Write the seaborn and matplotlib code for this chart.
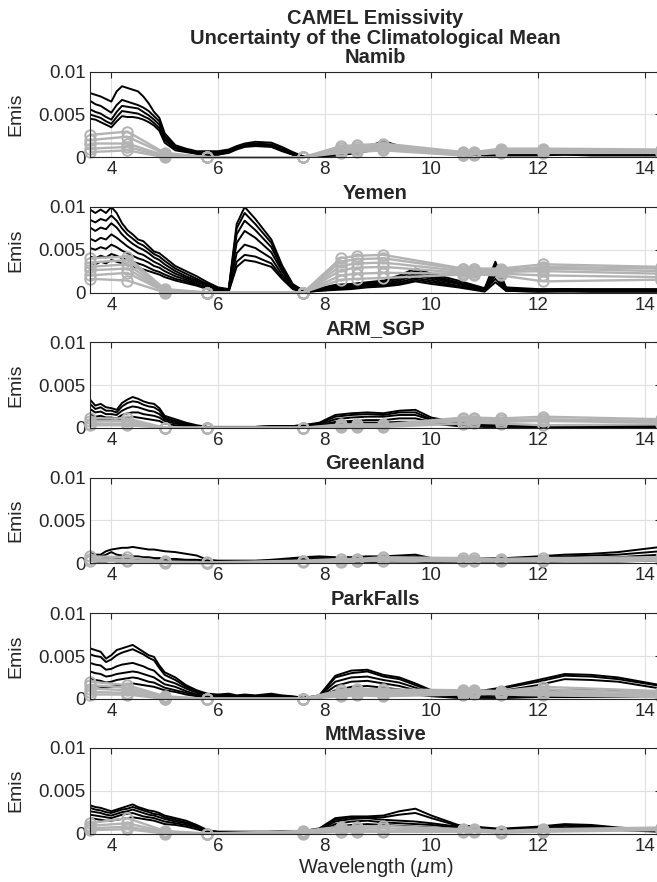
import numpy as np
import pandas as pd

import matplotlib
matplotlib.use("Agg")
import matplotlib.pyplot as plt
import seaborn as sns

# black spectra sampled at these wavelengths (um), values in units of 1e-3
wavelength = [3.6, 3.7, 3.8, 3.9, 4.0, 4.1, 4.2, 4.3, 4.4,
              4.5, 4.6, 4.7, 4.8, 4.9, 5.0, 5.2, 5.4, 5.6,
              5.8, 6.0, 6.2, 6.35, 6.5, 6.7, 7.0, 7.2, 7.4,
              7.6, 7.9, 8.2, 8.5, 8.8, 9.1, 9.4, 9.7, 10.0,
              10.5, 11.0, 11.2, 11.4, 12.0, 12.5, 13.0, 13.5, 14.3]

# CAMEL hinge points (gray lines with circles)
hinge_wavelength = [3.6, 4.3, 5.0, 5.8, 7.6, 8.3, 8.6, 9.1, 10.6, 10.8, 11.3, 12.1, 14.3]

sites = ["Namib", "Yemen", "ARM_SGP", "Greenland", "ParkFalls", "MtMassive"]

namib_black = [
    [7.5, 7.3, 7.1, 6.8, 6.5, 7.7, 8.3, 8.1, 7.9,
     7.7, 7.1, 6.3, 5.3, 4.6, 2.8, 1.4, 1.0, 0.7,
     0.7, 0.7, 0.9, 1.3, 1.6, 1.8, 1.7, 1.2, 0.6,
     0.1, 0.3, 0.5, 0.8, 1.2, 1.9, 1.3, 1.1, 0.9,
     0.6, 0.5, 0.5, 0.5, 0.5, 0.6, 0.5, 0.6, 0.6],
    [6.6, 6.2, 6.0, 5.6, 5.2, 6.1, 6.7, 6.5, 6.3,
     6.1, 5.8, 5.4, 4.8, 4.2, 2.5, 1.2, 0.9, 0.6,
     0.5, 0.5, 0.8, 1.2, 1.5, 1.6, 1.5, 1.0, 0.5,
     0.1, 0.2, 0.4, 0.7, 1.0, 1.7, 1.2, 1.0, 0.8,
     0.5, 0.4, 0.4, 0.4, 0.4, 0.5, 0.4, 0.5, 0.5],
    [5.6, 5.3, 5.1, 4.7, 4.4, 5.3, 6.0, 5.9, 5.8,
     5.7, 5.3, 4.9, 4.4, 3.8, 2.2, 1.1, 0.8, 0.5,
     0.4, 0.4, 0.7, 1.1, 1.4, 1.5, 1.4, 0.9, 0.4,
     0.0, 0.2, 0.3, 0.6, 0.9, 1.6, 1.1, 0.9, 0.7,
     0.4, 0.3, 0.3, 0.4, 0.4, 0.4, 0.4, 0.4, 0.4],
    [5.0, 4.8, 4.6, 4.2, 3.9, 4.7, 5.4, 5.3, 5.2,
     5.1, 4.8, 4.5, 4.0, 3.4, 2.0, 1.0, 0.7, 0.4,
     0.3, 0.3, 0.6, 1.0, 1.3, 1.4, 1.3, 0.8, 0.3,
     0.0, 0.1, 0.2, 0.5, 0.8, 1.5, 1.0, 0.8, 0.6,
     0.3, 0.3, 0.3, 0.3, 0.3, 0.3, 0.3, 0.3, 0.3],
    [4.5, 4.4, 4.1, 3.8, 3.5, 4.2, 4.8, 4.7, 4.7,
     4.6, 4.4, 4.1, 3.7, 3.1, 1.7, 0.8, 0.6, 0.4,
     0.3, 0.3, 0.5, 0.9, 1.2, 1.3, 1.2, 0.7, 0.3,
     0.0, 0.1, 0.2, 0.4, 0.7, 1.3, 0.9, 0.7, 0.5,
     0.3, 0.2, 0.2, 0.2, 0.2, 0.3, 0.2, 0.2, 0.2],
]
namib_gray = [
    [2.6, 3.0, 0.5, 0.0, 0.0, 1.3, 1.4, 1.6, 0.6, 0.6, 1.0, 1.0, 0.9],
    [2.0, 2.4, 0.4, 0.0, 0.0, 1.1, 1.2, 1.4, 0.5, 0.5, 0.8, 0.8, 0.8],
    [1.6, 1.6, 0.2, 0.0, 0.0, 0.9, 1.0, 1.2, 0.4, 0.4, 0.7, 0.7, 0.7],
    [1.0, 1.2, 0.1, 0.0, 0.0, 0.7, 0.8, 1.0, 0.3, 0.4, 0.6, 0.6, 0.6],
    [0.6, 0.8, 0.0, 0.0, 0.0, 0.5, 0.6, 0.8, 0.2, 0.3, 0.5, 0.5, 0.5],
]

yemen_black = [
    [9.7, 9.3, 9.7, 9.3, 10.0, 9.3, 8.1, 7.3, 6.8,
     6.2, 6.0, 5.4, 4.8, 4.6, 4.1, 3.1, 2.5, 1.9,
     1.2, 0.6, 0.4, 8.0, 10.0, 8.6, 6.2, 3.2, 1.0,
     0.2, 0.5, 0.9, 1.0, 1.2, 1.4, 2.0, 2.8, 2.2,
     1.4, 0.5, 3.6, 0.6, 0.4, 0.4, 0.4, 0.4, 0.4],
    [8.5, 8.2, 8.6, 8.4, 9.0, 8.4, 7.5, 6.8, 6.3,
     5.8, 5.5, 5.0, 4.5, 4.2, 3.7, 2.8, 2.2, 1.6,
     1.0, 0.5, 0.3, 7.5, 9.3, 8.0, 5.8, 3.0, 0.9,
     0.2, 0.4, 0.8, 0.9, 1.1, 1.3, 1.8, 2.5, 2.0,
     1.2, 0.4, 3.2, 0.5, 0.3, 0.4, 0.3, 0.3, 0.3],
    [7.6, 7.2, 7.6, 7.4, 8.1, 7.6, 6.8, 6.2, 5.7,
     5.3, 5.0, 4.6, 4.1, 3.8, 3.3, 2.5, 1.9, 1.4,
     0.9, 0.4, 0.3, 6.8, 8.4, 7.3, 5.3, 2.8, 0.8,
     0.1, 0.4, 0.7, 0.8, 1.0, 1.2, 1.6, 2.2, 1.8,
     1.1, 0.3, 2.8, 0.4, 0.3, 0.3, 0.3, 0.3, 0.3],
    [6.3, 6.0, 6.4, 6.2, 6.8, 6.4, 5.9, 5.4, 5.0,
     4.6, 4.4, 4.0, 3.6, 3.3, 2.9, 2.2, 1.7, 1.2,
     0.8, 0.3, 0.2, 5.8, 7.2, 6.4, 4.7, 2.5, 0.7,
     0.1, 0.3, 0.6, 0.7, 0.9, 1.0, 1.4, 2.0, 1.6,
     1.0, 0.3, 2.4, 0.3, 0.2, 0.3, 0.2, 0.2, 0.2],
    [5.2, 5.0, 5.3, 5.1, 5.6, 5.3, 4.9, 4.6, 4.3,
     4.0, 3.8, 3.5, 3.1, 2.9, 2.5, 1.9, 1.5, 1.0,
     0.6, 0.2, 0.2, 4.6, 5.6, 5.2, 4.0, 2.1, 0.6,
     0.1, 0.3, 0.5, 0.6, 0.8, 0.9, 1.2, 1.7, 1.4,
     0.8, 0.2, 2.0, 0.3, 0.2, 0.2, 0.2, 0.2, 0.2],
    [4.2, 4.0, 4.3, 4.1, 4.5, 4.3, 4.0, 3.8, 3.6,
     3.4, 3.2, 2.9, 2.6, 2.4, 2.1, 1.6, 1.3, 0.9,
     0.5, 0.2, 0.1, 3.6, 4.4, 4.2, 3.4, 1.8, 0.5,
     0.1, 0.2, 0.4, 0.5, 0.7, 0.8, 1.0, 1.5, 1.2,
     0.7, 0.2, 1.6, 0.2, 0.1, 0.2, 0.1, 0.1, 0.1],
    [3.5, 3.3, 3.6, 3.4, 3.8, 3.6, 3.4, 3.2, 3.0,
     2.9, 2.7, 2.5, 2.3, 2.1, 1.8, 1.4, 1.1, 0.8,
     0.4, 0.1, 0.1, 3.0, 3.8, 3.6, 3.0, 1.6, 0.4,
     0.0, 0.2, 0.3, 0.4, 0.6, 0.7, 0.9, 1.3, 1.0,
     0.6, 0.1, 1.2, 0.2, 0.1, 0.1, 0.1, 0.1, 0.1],
]
yemen_gray = [
    [4.0, 4.2, 0.4, 0.0, 0.0, 4.0, 4.3, 4.4, 2.8, 2.8, 2.8, 3.3, 3.0],
    [3.5, 3.8, 0.3, 0.0, 0.0, 3.6, 3.9, 4.0, 2.7, 2.7, 2.6, 3.0, 2.8],
    [3.0, 3.3, 0.2, 0.0, 0.0, 3.1, 3.4, 3.5, 2.5, 2.5, 2.5, 2.8, 2.5],
    [2.6, 2.8, 0.1, 0.0, 0.0, 2.6, 2.9, 3.0, 2.3, 2.4, 2.4, 2.5, 2.2],
    [2.0, 2.3, 0.1, 0.0, 0.0, 2.0, 2.2, 2.3, 2.2, 2.2, 2.2, 2.0, 1.8],
    [1.6, 1.4, 0.0, 0.0, 0.0, 1.5, 1.6, 1.7, 2.1, 2.1, 2.0, 1.3, 1.5],
]

arm_black = [
    [3.3, 2.6, 2.8, 2.4, 2.3, 2.1, 2.9, 3.3, 3.6,
     3.4, 3.1, 2.9, 2.8, 2.3, 1.4, 1.0, 0.6, 0.3,
     0.1, 0.1, 0.1, 0.1, 0.1, 0.1, 0.2, 0.2, 0.2,
     0.3, 0.6, 1.5, 1.7, 1.8, 1.7, 2.0, 2.1, 1.2,
     0.6, 0.4, 0.4, 0.3, 0.2, 0.2, 0.2, 0.3, 0.3],
    [2.8, 2.2, 2.4, 2.0, 2.0, 1.8, 2.5, 2.9, 3.1,
     3.0, 2.7, 2.5, 2.4, 2.0, 1.2, 0.8, 0.5, 0.2,
     0.1, 0.1, 0.1, 0.1, 0.1, 0.1, 0.2, 0.2, 0.2,
     0.3, 0.5, 1.3, 1.5, 1.6, 1.5, 1.8, 1.8, 1.0,
     0.5, 0.3, 0.3, 0.3, 0.2, 0.2, 0.2, 0.2, 0.2],
    [2.2, 1.8, 1.9, 1.6, 1.6, 1.5, 2.0, 2.3, 2.5,
     2.4, 2.2, 2.0, 1.9, 1.6, 1.0, 0.7, 0.4, 0.2,
     0.1, 0.1, 0.1, 0.1, 0.1, 0.1, 0.1, 0.2, 0.2,
     0.2, 0.4, 1.0, 1.2, 1.3, 1.3, 1.5, 1.5, 0.9,
     0.4, 0.3, 0.2, 0.2, 0.2, 0.2, 0.2, 0.2, 0.2],
    [1.6, 1.3, 1.4, 1.2, 1.2, 1.1, 1.5, 1.7, 1.8,
     1.8, 1.6, 1.5, 1.4, 1.2, 0.8, 0.5, 0.3, 0.1,
     0.1, 0.1, 0.1, 0.1, 0.1, 0.1, 0.1, 0.1, 0.1,
     0.2, 0.3, 0.7, 0.8, 0.9, 0.9, 1.1, 1.1, 0.7,
     0.3, 0.2, 0.2, 0.2, 0.1, 0.1, 0.1, 0.1, 0.1],
    [1.2, 1.0, 1.0, 0.9, 0.9, 0.8, 1.1, 1.2, 1.3,
     1.2, 1.1, 1.0, 0.9, 0.8, 0.5, 0.3, 0.2, 0.1,
     0.0, 0.0, 0.0, 0.0, 0.0, 0.0, 0.1, 0.1, 0.1,
     0.1, 0.2, 0.5, 0.6, 0.6, 0.6, 0.7, 0.7, 0.5,
     0.2, 0.1, 0.1, 0.1, 0.1, 0.1, 0.1, 0.1, 0.1],
]
arm_gray = [
    [1.1, 1.1, 0.0, 0.0, 0.0, 0.4, 0.4, 0.4, 1.2, 1.2, 1.1, 1.3, 1.0],
    [0.8, 0.8, 0.0, 0.0, 0.0, 0.3, 0.3, 0.3, 1.0, 1.0, 0.9, 1.0, 0.8],
    [0.5, 0.5, 0.0, 0.0, 0.0, 0.2, 0.2, 0.2, 0.8, 0.8, 0.7, 0.8, 0.6],
    [0.3, 0.3, 0.0, 0.0, 0.0, 0.1, 0.1, 0.1, 0.5, 0.6, 0.5, 0.3, 0.4],
]

greenland_black = [
    [1.2, 1.0, 1.0, 1.4, 1.6, 1.7, 1.8, 1.8, 1.9,
     1.8, 1.7, 1.6, 1.6, 1.5, 1.4, 1.3, 1.1, 0.9,
     0.4, 0.3, 0.3, 0.3, 0.3, 0.3, 0.4, 0.5, 0.6,
     0.7, 0.8, 0.7, 0.7, 0.8, 0.8, 0.9, 1.0, 0.6,
     0.6, 0.6, 0.6, 0.6, 0.8, 1.0, 1.1, 1.3, 1.9],
    [1.0, 0.9, 0.8, 1.0, 1.3, 1.0, 0.9, 0.9, 0.8,
     0.8, 0.7, 0.7, 0.6, 0.6, 0.5, 0.5, 0.4, 0.4,
     0.3, 0.2, 0.2, 0.2, 0.2, 0.2, 0.3, 0.4, 0.5,
     0.6, 0.6, 0.6, 0.6, 0.6, 0.7, 0.7, 0.8, 0.5,
     0.5, 0.5, 0.5, 0.5, 0.7, 0.8, 0.9, 1.0, 1.4],
    [0.6, 0.5, 0.5, 0.6, 0.7, 0.6, 0.5, 0.5, 0.5,
     0.4, 0.4, 0.4, 0.4, 0.3, 0.3, 0.3, 0.3, 0.2,
     0.2, 0.2, 0.1, 0.1, 0.1, 0.1, 0.2, 0.2, 0.3,
     0.4, 0.4, 0.4, 0.4, 0.4, 0.5, 0.5, 0.6, 0.4,
     0.4, 0.4, 0.4, 0.4, 0.5, 0.6, 0.6, 0.7, 1.0],
    [0.3, 0.2, 0.2, 0.2, 0.3, 0.2, 0.2, 0.2, 0.2,
     0.2, 0.2, 0.2, 0.2, 0.1, 0.1, 0.1, 0.1, 0.1,
     0.1, 0.1, 0.1, 0.1, 0.1, 0.1, 0.1, 0.1, 0.1,
     0.1, 0.1, 0.1, 0.1, 0.1, 0.2, 0.2, 0.2, 0.1,
     0.1, 0.1, 0.1, 0.1, 0.1, 0.2, 0.2, 0.2, 0.3],
]
greenland_gray = [
    [0.8, 0.7, 0.2, 0.1, 0.3, 0.5, 0.5, 0.7, 0.6, 0.6, 0.5, 0.6, 0.7],
    [0.5, 0.4, 0.1, 0.0, 0.2, 0.3, 0.3, 0.5, 0.4, 0.4, 0.4, 0.4, 0.5],
    [0.3, 0.2, 0.0, 0.0, 0.1, 0.1, 0.2, 0.3, 0.2, 0.2, 0.2, 0.2, 0.3],
]

parkfalls_black = [
    [5.9, 5.7, 5.5, 4.7, 5.1, 5.7, 5.9, 6.1, 6.3,
     5.9, 5.5, 5.1, 4.9, 3.9, 3.1, 2.5, 1.6, 1.0,
     0.6, 0.5, 0.6, 0.4, 0.5, 0.4, 0.6, 0.4, 0.3,
     0.1, 0.4, 2.7, 3.3, 3.4, 2.8, 2.5, 1.8, 1.0,
     0.8, 1.0, 1.2, 1.4, 2.2, 2.9, 2.8, 2.5, 1.6],
    [5.2, 5.0, 4.9, 4.3, 4.6, 5.1, 5.4, 5.6, 5.8,
     5.5, 5.2, 4.8, 4.5, 3.6, 2.8, 2.2, 1.4, 0.9,
     0.5, 0.4, 0.5, 0.3, 0.4, 0.3, 0.5, 0.3, 0.2,
     0.1, 0.3, 2.5, 3.0, 3.2, 2.6, 2.3, 1.6, 0.9,
     0.7, 0.9, 1.1, 1.3, 2.0, 2.7, 2.6, 2.3, 1.5],
    [4.2, 4.0, 3.9, 3.4, 3.5, 3.8, 4.0, 4.1, 4.2,
     4.0, 3.8, 3.5, 3.3, 2.7, 2.2, 1.8, 1.2, 0.7,
     0.4, 0.3, 0.4, 0.3, 0.3, 0.3, 0.4, 0.3, 0.2,
     0.1, 0.3, 2.0, 2.5, 2.6, 2.2, 1.9, 1.3, 0.7,
     0.5, 0.6, 0.8, 1.0, 1.6, 2.3, 2.2, 2.0, 1.2],
    [3.2, 3.0, 2.9, 2.6, 2.7, 2.9, 3.0, 3.1, 3.2,
     3.1, 2.9, 2.7, 2.5, 2.1, 1.7, 1.4, 0.9, 0.5,
     0.3, 0.2, 0.3, 0.2, 0.2, 0.2, 0.3, 0.2, 0.1,
     0.1, 0.2, 1.5, 2.0, 2.1, 1.8, 1.5, 1.0, 0.5,
     0.3, 0.3, 0.4, 0.5, 0.8, 1.0, 1.0, 0.9, 0.6],
    [2.4, 2.2, 2.1, 1.9, 2.0, 2.2, 2.3, 2.4, 2.5,
     2.4, 2.2, 2.0, 1.9, 1.6, 1.3, 1.0, 0.7, 0.4,
     0.2, 0.2, 0.2, 0.2, 0.2, 0.2, 0.2, 0.1, 0.1,
     0.0, 0.2, 1.0, 1.4, 1.5, 1.3, 1.1, 0.7, 0.4,
     0.2, 0.2, 0.2, 0.3, 0.4, 0.5, 0.5, 0.5, 0.3],
    [1.6, 1.5, 1.4, 1.3, 1.4, 1.5, 1.6, 1.7, 1.8,
     1.7, 1.6, 1.5, 1.4, 1.2, 1.0, 0.8, 0.5, 0.3,
     0.2, 0.1, 0.2, 0.1, 0.1, 0.1, 0.1, 0.1, 0.1,
     0.0, 0.1, 0.6, 0.9, 1.0, 0.9, 0.8, 0.5, 0.3,
     0.1, 0.1, 0.1, 0.1, 0.2, 0.2, 0.2, 0.2, 0.2],
]
parkfalls_gray = [
    [2.0, 1.6, 0.3, 0.0, 0.0, 1.0, 1.2, 1.1, 1.0, 1.0, 0.9, 1.4, 0.9],
    [1.6, 1.3, 0.2, 0.0, 0.0, 0.8, 1.0, 0.9, 0.9, 0.9, 0.8, 1.1, 0.7],
    [1.2, 1.0, 0.1, 0.0, 0.0, 0.6, 0.8, 0.7, 0.8, 0.8, 0.7, 0.8, 0.5],
    [0.8, 0.7, 0.0, 0.0, 0.0, 0.4, 0.6, 0.5, 0.7, 0.7, 0.6, 0.6, 0.3],
    [0.5, 0.5, 0.0, 0.0, 0.0, 0.3, 0.4, 0.3, 0.5, 0.6, 0.5, 0.4, 0.2],
]

mtmassive_black = [
    [3.3, 3.1, 3.0, 2.8, 2.6, 2.8, 3.0, 3.2, 3.4,
     3.1, 2.9, 2.7, 2.6, 2.4, 2.1, 1.8, 1.5, 1.0,
     0.4, 0.2, 0.2, 0.2, 0.2, 0.2, 0.2, 0.3, 0.3,
     0.3, 0.6, 1.8, 2.0, 2.0, 2.1, 2.6, 2.9, 2.1,
     1.0, 0.7, 0.6, 0.6, 0.8, 1.1, 1.0, 0.7, 0.4],
    [3.0, 2.8, 2.7, 2.5, 2.4, 2.6, 2.8, 2.9, 3.1,
     2.9, 2.7, 2.5, 2.3, 2.2, 1.9, 1.6, 1.3, 0.9,
     0.3, 0.2, 0.2, 0.2, 0.2, 0.2, 0.2, 0.2, 0.2,
     0.3, 0.5, 1.6, 1.9, 1.9, 1.9, 2.2, 2.4, 1.8,
     0.9, 0.6, 0.5, 0.5, 0.7, 1.0, 0.9, 0.6, 0.4],
    [2.6, 2.5, 2.4, 2.2, 2.1, 2.3, 2.5, 2.6, 2.8,
     2.6, 2.4, 2.2, 2.1, 1.9, 1.7, 1.4, 1.2, 0.8,
     0.3, 0.1, 0.1, 0.1, 0.1, 0.1, 0.2, 0.2, 0.2,
     0.2, 0.4, 1.4, 1.7, 1.8, 1.6, 1.5, 1.4, 1.2,
     0.8, 0.6, 0.5, 0.5, 0.6, 0.9, 0.8, 0.6, 0.3],
    [2.2, 2.1, 2.0, 1.9, 1.8, 2.0, 2.2, 2.3, 2.4,
     2.2, 2.0, 1.9, 1.8, 1.6, 1.4, 1.2, 1.0, 0.7,
     0.2, 0.1, 0.1, 0.1, 0.1, 0.1, 0.1, 0.1, 0.2,
     0.2, 0.3, 1.1, 1.4, 1.5, 1.3, 1.2, 1.1, 1.0,
     0.7, 0.5, 0.4, 0.4, 0.5, 0.7, 0.7, 0.5, 0.3],
    [1.8, 1.7, 1.6, 1.5, 1.5, 1.6, 1.7, 1.8, 1.9,
     1.8, 1.7, 1.6, 1.5, 1.3, 1.1, 1.0, 0.8, 0.5,
     0.2, 0.1, 0.1, 0.1, 0.1, 0.1, 0.1, 0.1, 0.1,
     0.1, 0.2, 0.8, 1.0, 1.1, 1.0, 0.9, 0.8, 0.7,
     0.5, 0.4, 0.3, 0.3, 0.4, 0.5, 0.5, 0.4, 0.2],
]
mtmassive_gray = [
    [1.2, 1.8, 0.3, 0.0, 0.3, 0.8, 0.8, 0.9, 0.5, 0.5, 0.3, 0.5, 0.7],
    [0.9, 1.2, 0.2, 0.0, 0.2, 0.6, 0.6, 0.6, 0.4, 0.4, 0.2, 0.4, 0.6],
    [0.6, 0.8, 0.1, 0.0, 0.1, 0.4, 0.4, 0.3, 0.3, 0.3, 0.2, 0.3, 0.5],
    [0.4, 0.5, 0.0, 0.0, 0.0, 0.2, 0.2, 0.2, 0.2, 0.2, 0.1, 0.2, 0.4],
]

black_curves = [namib_black, yemen_black, arm_black, greenland_black, parkfalls_black, mtmassive_black]
gray_curves = [namib_gray, yemen_gray, arm_gray, greenland_gray, parkfalls_gray, mtmassive_gray]


def to_frame(curves, x):
    rows = []
    for k, curve in enumerate(curves):
        for w, v in zip(x, curve):
            rows.append((k, w, v * 1e-3))
    return pd.DataFrame(rows, columns=["curve", "wavelength", "emis"])


def main():
    sns.set_theme(style="white")
    plt.rcParams["font.family"] = ["Liberation Sans", "DejaVu Sans"]
    plt.rcParams["mathtext.fontset"] = "dejavusans"

    fig = plt.figure(figsize=(6.57, 8.82), dpi=100)
    W, H = 657.0, 882.0
    tops = [71.7, 207.0, 342.3, 477.7, 613.3, 748.0]
    ax_h = 85.5

    for i, site in enumerate(sites):
        ax = fig.add_axes([90 / W, 1 - (tops[i] + ax_h) / H, 570.7 / W, ax_h / H])

        sns.lineplot(data=to_frame(black_curves[i], wavelength), x="wavelength", y="emis",
                     units="curve", estimator=None, color="black", linewidth=1.4, ax=ax)
        sns.lineplot(data=to_frame(gray_curves[i], hinge_wavelength), x="wavelength", y="emis",
                     units="curve", estimator=None, color="0.7", linewidth=1.7,
                     marker="o", markersize=7.5, markerfacecolor="none",
                     markeredgecolor="0.7", markeredgewidth=1.4, clip_on=False, ax=ax)

        ax.set_xlim(3.6, 14.3)
        ax.set_ylim(0, 0.01)
        ax.set_xticks([4, 6, 8, 10, 12, 14])
        ax.set_xticklabels(["4", "6", "8", "10", "12", "14"])
        ax.set_yticks([0, 0.005, 0.01])
        ax.set_yticklabels(["0", "0.005", "0.01"])
        ax.grid(True, color="0.88", linewidth=0.8)
        ax.set_axisbelow(True)
        ax.tick_params(direction="in", top=True, right=True, length=4, width=0.8,
                       colors="0.15", labelsize=13.5, pad=3)
        for sp in ax.spines.values():
            sp.set_color("0.15")
            sp.set_linewidth(0.8)

        ax.set_ylabel("Emis", fontsize=14, color="0.15")
        ax.yaxis.set_label_coords(-0.115, 0.5)
        if i == len(sites) - 1:
            ax.set_xlabel(r"Wavelength ($\mu$m)", fontsize=14.5, color="0.15", labelpad=1)
        else:
            ax.set_xlabel("")

        if i == 0:
            title = "CAMEL Emissivity\nUncertainty of the Climatological Mean\n" + site
        else:
            title = site
        ax.set_title(title, fontsize=14.5, fontweight="bold", pad=6, linespacing=1.05)

    fig.savefig("out.png", dpi=100)


if __name__ == "__main__":
    main()
